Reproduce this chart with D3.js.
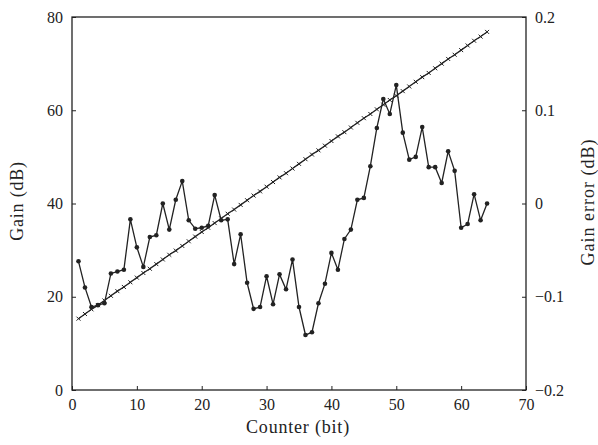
<!DOCTYPE html>
<html>
<head>
<meta charset="utf-8">
<script src="https://cdn.jsdelivr.net/npm/d3@7"></script>
<style>
  body { margin: 0; background: #fff; }
  svg text { font-family: "Liberation Serif", "DejaVu Serif", serif; fill: #222; }
</style>
</head>
<body>
<svg id="canvas"></svg>
<script>
// counter values 1..64
let counter = [1, 2, 3, 4, 5, 6, 7, 8, 9, 10, 11, 12, 13, 14, 15, 16,
    17, 18, 19, 20, 21, 22, 23, 24, 25, 26, 27, 28, 29, 30, 31, 32,
    33, 34, 35, 36, 37, 38, 39, 40, 41, 42, 43, 44, 45, 46, 47, 48,
    49, 50, 51, 52, 53, 54, 55, 56, 57, 58, 59, 60, 61, 62, 63, 64]

// gain (dB), left axis
let gain = [15.3, 16.3, 17.3, 18.2, 19.2, 20.2, 21.2, 22.1, 23.1, 24.1, 25.1, 26.0, 27.0, 28.0, 29.0, 29.9,
    30.9, 31.9, 32.9, 33.9, 34.8, 35.8, 36.8, 37.8, 38.7, 39.7, 40.7, 41.7, 42.6, 43.6, 44.6, 45.6,
    46.5, 47.5, 48.5, 49.5, 50.5, 51.4, 52.4, 53.4, 54.4, 55.3, 56.3, 57.3, 58.3, 59.2, 60.2, 61.2,
    62.2, 63.1, 64.1, 65.1, 66.1, 67.1, 68.0, 69.0, 70.0, 71.0, 71.9, 72.9, 73.9, 74.9, 75.8, 76.8]

// gain error (dB), right axis
let gainError = [-0.062, -0.090, -0.111, -0.109, -0.107, -0.075, -0.073, -0.071, -0.017, -0.047, -0.068, -0.036, -0.034, 0.000, -0.028, 0.004,
    0.024, -0.018, -0.027, -0.026, -0.024, 0.009, -0.018, -0.017, -0.065, -0.033, -0.085, -0.113, -0.111, -0.078, -0.108, -0.076,
    -0.092, -0.060, -0.111, -0.141, -0.138, -0.107, -0.086, -0.053, -0.071, -0.038, -0.028, 0.004, 0.006, 0.040, 0.081, 0.112,
    0.096, 0.127, 0.076, 0.047, 0.050, 0.082, 0.039, 0.039, 0.022, 0.056, 0.035, -0.026, -0.022, 0.010, -0.018, 0.000]

let xTicks = [0, 10, 20, 30, 40, 50, 60, 70]
let leftTicks = [0, 20, 40, 60, 80]
let rightTicks = [-0.2, -0.1, 0, 0.1, 0.2]

let width = 598
let height = 445
let plotLeft = 72
let plotRight = 526
let plotTop = 17
let plotBottom = 390
let ink = '#222'
let serif = '"Liberation Serif", "Times New Roman", serif'

let canvas = d3.select('#canvas')
    .attr('width', width)
    .attr('height', height)

let xScale = d3.scaleLinear().domain([0, 70]).range([plotLeft, plotRight])
let yLeft = d3.scaleLinear().domain([0, 80]).range([plotBottom, plotTop])
let yRight = d3.scaleLinear().domain([-0.2, 0.2]).range([plotBottom, plotTop])

let drawAxes = () => {
    let xAxis = d3.axisBottom(xScale).tickValues(xTicks).tickSize(-4).tickPadding(9).tickFormat(d3.format('d'))
    let leftAxis = d3.axisLeft(yLeft).tickValues(leftTicks).tickSize(-4).tickPadding(9).tickFormat(d3.format('d'))
    let rightAxis = d3.axisRight(yRight).tickValues(rightTicks).tickSize(-4).tickPadding(9)
        .tickFormat(d => d === 0 ? '0' : d3.format('.1f')(d))

    let gx = canvas.append('g').attr('transform', 'translate(0,' + plotBottom + ')').call(xAxis)
    let gl = canvas.append('g').attr('transform', 'translate(' + plotLeft + ',0)').call(leftAxis)
    let gr = canvas.append('g').attr('transform', 'translate(' + plotRight + ',0)').call(rightAxis)

    ;[gx, gl, gr].forEach(g => {
        g.select('.domain').remove()
        g.selectAll('line').attr('stroke', ink)
        g.selectAll('text').attr('font-size', 16).attr('fill', ink)
            .attr('font-family', serif)
    })

    canvas.append('rect')
        .attr('x', plotLeft).attr('y', plotTop)
        .attr('width', plotRight - plotLeft).attr('height', plotBottom - plotTop)
        .attr('fill', 'none').attr('stroke', ink).attr('stroke-width', 1.3)

    canvas.append('text')
        .attr('x', 298).attr('y', 433)
        .attr('text-anchor', 'middle').attr('font-size', 18)
        .attr('font-family', serif)
        .attr('letter-spacing', 0.8)
        .text('Counter (bit)')

    canvas.append('text')
        .attr('transform', 'translate(23,201) rotate(-90)')
        .attr('text-anchor', 'middle').attr('font-size', 18)
        .attr('font-family', serif)
        .attr('letter-spacing', 0.8)
        .text('Gain (dB)')

    canvas.append('text')
        .attr('transform', 'translate(594,202) rotate(-90)')
        .attr('text-anchor', 'middle').attr('font-size', 18)
        .attr('font-family', serif)
        .attr('letter-spacing', 1)
        .text('Gain error (dB)')
}

let drawSeries = () => {
    let gainData = counter.map((c, i) => ({ x: c, y: gain[i] }))
    let errData = counter.map((c, i) => ({ x: c, y: gainError[i] }))

    let gainLine = d3.line().x(d => xScale(d.x)).y(d => yLeft(d.y))
    let errLine = d3.line().x(d => xScale(d.x)).y(d => yRight(d.y))

    canvas.append('path')
        .datum(gainData)
        .attr('d', gainLine)
        .attr('fill', 'none').attr('stroke', ink).attr('stroke-width', 1.3)

    canvas.selectAll('.gain-mark')
        .data(gainData)
        .enter()
        .append('path')
        .attr('class', 'gain-mark')
        .attr('transform', d => 'translate(' + xScale(d.x) + ',' + yLeft(d.y) + ')')
        .attr('d', 'M-2,-2L2,2M-2,2L2,-2')
        .attr('stroke', ink).attr('stroke-width', 1)

    canvas.append('path')
        .datum(errData)
        .attr('d', errLine)
        .attr('fill', 'none').attr('stroke', ink).attr('stroke-width', 1.3)

    canvas.selectAll('.err-mark')
        .data(errData)
        .enter()
        .append('circle')
        .attr('class', 'err-mark')
        .attr('cx', d => xScale(d.x))
        .attr('cy', d => yRight(d.y))
        .attr('r', 2.3)
        .attr('fill', ink)
}

drawSeries()
drawAxes()
</script>
</body>
</html>
